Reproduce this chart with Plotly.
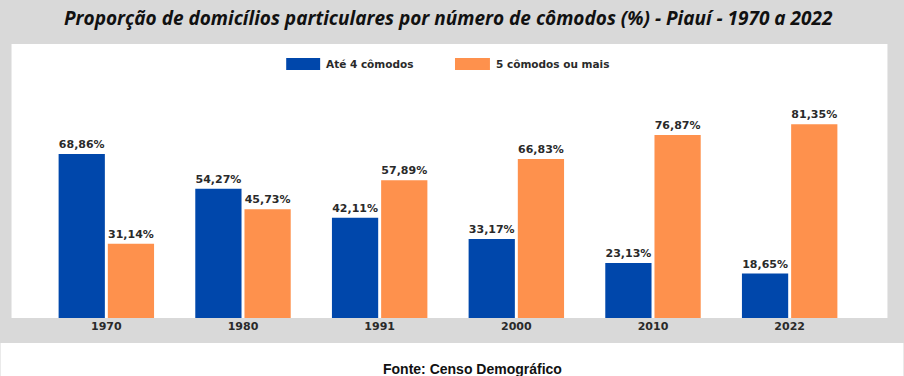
import plotly.graph_objects as go

years = ["1970", "1980", "1991", "2000", "2010", "2022"]
ate4 = [68.86, 54.27, 42.11, 33.17, 23.13, 18.65]
mais5 = [31.14, 45.73, 57.89, 66.83, 76.87, 81.35]
series_names = ["Até 4 cômodos", "5 cômodos ou mais"]
colors = ["#0047ab", "#fe914d"]

W, H = 904, 376
L, R, T, B = 37.5, 45.5, 44, 58
pw, ph = W - L - R, H - T - B

def px(x):
    return (x - L) / pw

def py(y):
    return (H - B - y) / ph

fig = go.Figure()
for name, vals, c in zip(series_names, [ate4, mais5], colors):
    fig.add_trace(go.Bar(
        x=years, y=vals, name=name, marker=dict(color=c, line=dict(width=0)),
        texttemplate="<b>%{y:.2f}%</b>", textposition="outside", cliponaxis=False,
        textfont=dict(family="DejaVu Sans", size=11, color="#2a2a2a"),
        showlegend=False, hoverinfo="skip",
    ))

shapes = [
    dict(type="rect", xref="paper", yref="paper", x0=px(11), x1=px(888), y0=py(318), y1=py(44),
         fillcolor="white", line=dict(width=0), layer="below"),
    dict(type="rect", xref="paper", yref="paper", x0=px(0), x1=px(904), y0=py(376), y1=py(343),
         fillcolor="white", line=dict(width=0), layer="below"),
    dict(type="rect", xref="paper", yref="paper", x0=px(286), x1=px(320), y0=py(70), y1=py(58),
         fillcolor=colors[0], line=dict(width=0)),
    dict(type="rect", xref="paper", yref="paper", x0=px(455), x1=px(490), y0=py(70), y1=py(58),
         fillcolor=colors[1], line=dict(width=0)),
]

annotations = [
    dict(text="<b><i>Proporção de domicílios particulares por número de cômodos (%) - Piauí - 1970 a 2022</i></b>",
         xref="paper", yref="paper", x=px(449), y=py(18), showarrow=False,
         font=dict(family="Open Sans", size=19, color="#111111"), xanchor="center", yanchor="middle"),
    dict(text="<b>" + series_names[0] + "</b>", xref="paper", yref="paper", x=px(324), y=py(64),
         showarrow=False, xanchor="left", yanchor="middle",
         font=dict(family="DejaVu Sans", size=10.5, color="#2a2a2a")),
    dict(text="<b>" + series_names[1] + "</b>", xref="paper", yref="paper", x=px(494), y=py(64),
         showarrow=False, xanchor="left", yanchor="middle",
         font=dict(family="DejaVu Sans", size=10.5, color="#2a2a2a")),
    dict(text="<b>Fonte: Censo Demográfico</b>", xref="paper", yref="paper", x=px(473), y=py(369),
         showarrow=False, xanchor="center", yanchor="middle",
         font=dict(family="Liberation Sans", size=14, color="#111111")),
]

fig.update_layout(
    width=W, height=H, margin=dict(l=L, r=R, t=T, b=B, pad=0),
    paper_bgcolor="#d9d9d9", plot_bgcolor="rgba(0,0,0,0)",
    barmode="group", bargap=0.28, bargroupgap=0.06,
    separators=",.",
    shapes=shapes, annotations=annotations,
    xaxis=dict(showgrid=False, showline=False, ticks="", ticklen=0,
               tickfont=dict(family="DejaVu Sans", size=11, color="#2a2a2a"),
               tickprefix="<b>", ticksuffix="</b>"),
    yaxis=dict(range=[0, 115.1], visible=False, showgrid=False, zeroline=False),
)

fig.write_html("out.html", config={"displayModeBar": False},
               post_script="document.body.style.margin='0';document.body.style.overflow='hidden';")
